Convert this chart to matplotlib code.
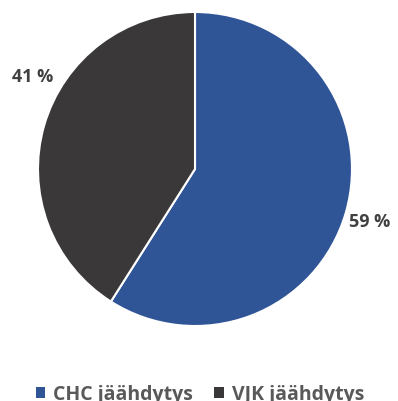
import matplotlib.pyplot as plt
from matplotlib.patches import Patch

# share of cooling by type
categories = ['CHC jäähdytys', 'VJK jäähdytys']
shares = [59, 41]
colors = ['#2F5597', '#3A3838']

plt.rcParams['font.family'] = ['Open Sans', 'DejaVu Sans']

fig = plt.figure(figsize=(3.98, 4.02), dpi=100)
ax = fig.add_axes([0, 0, 1, 1])

wedges, _ = ax.pie(shares, colors=colors, startangle=90, counterclock=False,
                   center=(195, 232), radius=157, frame=True,
                   wedgeprops=dict(edgecolor='white', linewidth=1.5))
ax.set_xlim(0, 398)
ax.set_ylim(0, 402)
ax.set_aspect('equal')
ax.axis('off')

ax.text(370, 180, f'{shares[0]} %', ha='center', va='center',
        fontsize=13, fontweight='bold', color='#404040')
ax.text(33, 325, f'{shares[1]} %', ha='center', va='center',
        fontsize=13, fontweight='bold', color='#404040')

handles = [Patch(facecolor=c, edgecolor='none') for c in colors]
ax.legend(handles, categories, loc='center', bbox_to_anchor=(200, 7),
          bbox_transform=ax.transData, ncol=2, frameon=False,
          handlelength=0.5, handleheight=0.5, handletextpad=0.4,
          columnspacing=1.1,
          prop=dict(size=14, weight='bold'),
          labelcolor='#595959')

fig.savefig('out.png', dpi=100)
